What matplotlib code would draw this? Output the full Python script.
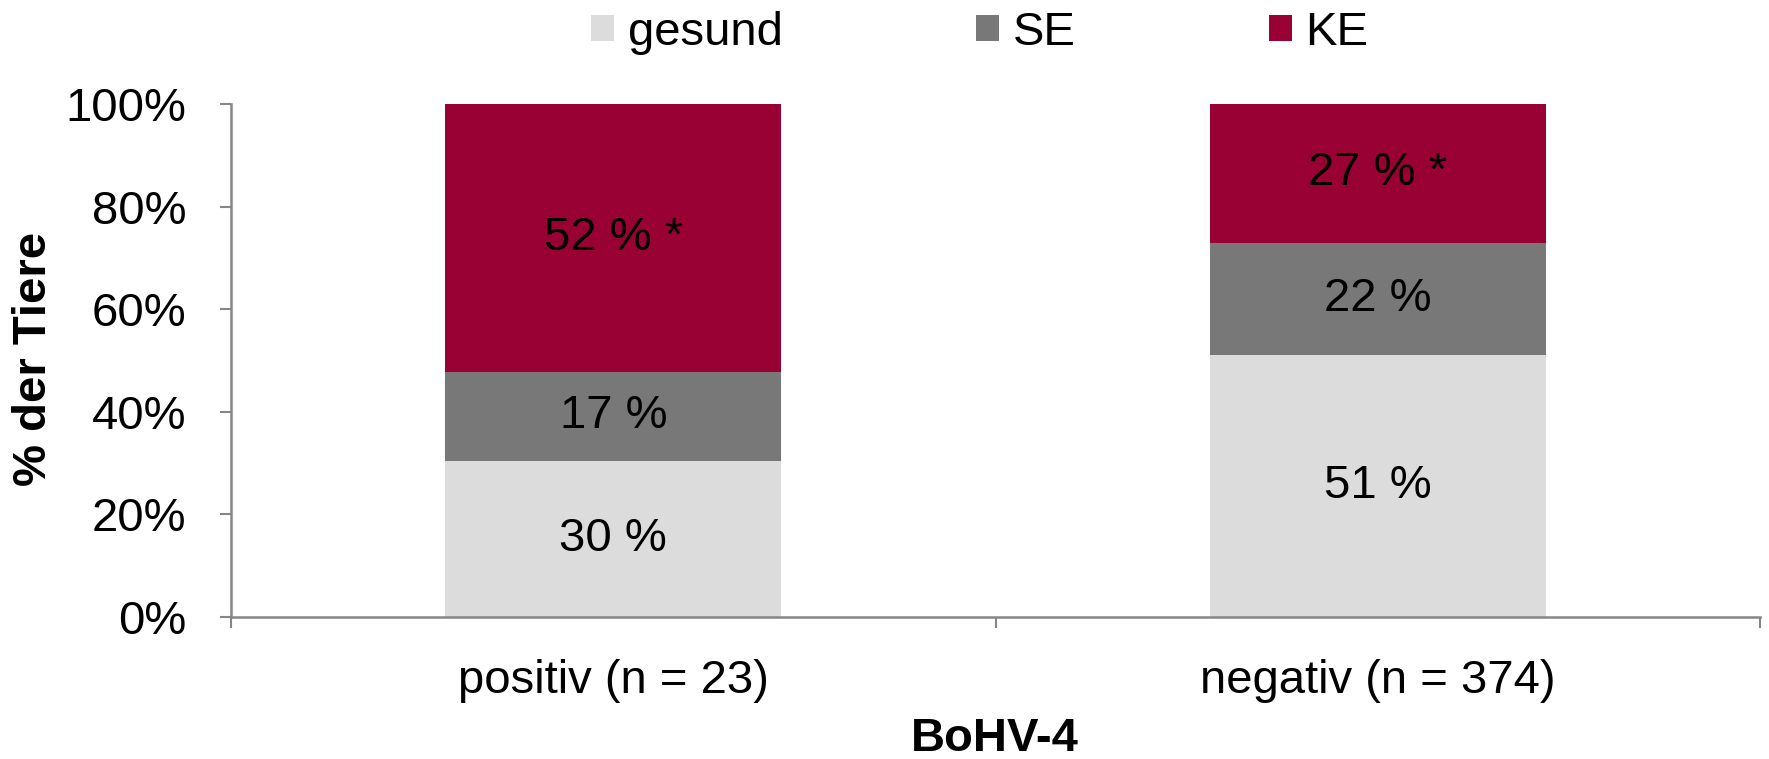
import matplotlib
matplotlib.use("Agg")
import matplotlib.pyplot as plt
from matplotlib.patches import Patch
import numpy as np

plt.rcParams['font.family'] = ['Liberation Sans', 'DejaVu Sans']

# Data: share of animals per outcome group, by BoHV-4 status
categories = ["positiv (n = 23)", "negativ (n = 374)"]
series_names = ["gesund", "SE", "KE"]
gesund = [30.4, 51.1]
se = [17.4, 21.9]
ke = [52.2, 27.0]
ke_marks = [" *", " *"]
y_ticks = [0, 20, 40, 60, 80, 100]
y_tick_labels = ["0%", "20%", "40%", "60%", "80%", "100%"]

colors = ["#DCDCDC", "#787878", "#990033"]
axis_gray = "#868686"
fs = 34

fig = plt.figure(figsize=(17.69, 7.59), dpi=100)
ax = fig.add_axes([0.1306, 0.187, 0.8643, 0.676])

x = np.arange(len(categories))
width = 0.44
bottom = np.zeros(len(categories))
for name, vals, col in zip(series_names, [gesund, se, ke], colors):
    vals = np.array(vals)
    ax.bar(x, vals, width, bottom=bottom, color=col, label=name, zorder=2)
    for i, v in enumerate(vals):
        txt = f"{round(v)} %"
        if name == "KE":
            txt += ke_marks[i]
        ax.text(x[i], bottom[i] + v / 2, txt, ha="center", va="center",
                fontsize=fs, color="black", zorder=3)
    bottom += vals

ax.set_xlim(-0.5, 1.5)
ax.set_ylim(0, 100)
ax.set_yticks(y_ticks)
ax.set_yticklabels(y_tick_labels, fontsize=fs)
ax.set_xticks(x)
ax.set_xticklabels(categories, fontsize=fs)
ax.set_xticks([-0.5, 0.5, 1.5], minor=True)
ax.tick_params(axis="x", which="major", length=0, pad=30)
ax.tick_params(axis="x", which="minor", length=8, width=1.5, color=axis_gray)
ax.tick_params(axis="y", which="major", length=8, width=1.5, color=axis_gray, pad=24)

for s in ["top", "right"]:
    ax.spines[s].set_visible(False)
for s in ["left", "bottom"]:
    ax.spines[s].set_color(axis_gray)
    ax.spines[s].set_linewidth(1.8)

fig.text(34 / 1769, 1 - 359 / 759, "% der Tiere", rotation=90, ha="center",
         va="center", fontsize=fs, fontweight="bold")
fig.text(995 / 1769, 1 - 751 / 759, "BoHV-4", ha="center", va="baseline",
         fontsize=fs, fontweight="bold")

handles = [Patch(facecolor=c, edgecolor="none") for c in colors]
fig.legend(handles, series_names, loc="center", bbox_to_anchor=(0.554, 0.957),
           ncol=3, frameon=False, fontsize=fs, handlelength=0.48,
           handleheight=0.48, handletextpad=0.29, columnspacing=4.1,
           borderpad=0, borderaxespad=0)

fig.savefig("out.png", dpi=100)
